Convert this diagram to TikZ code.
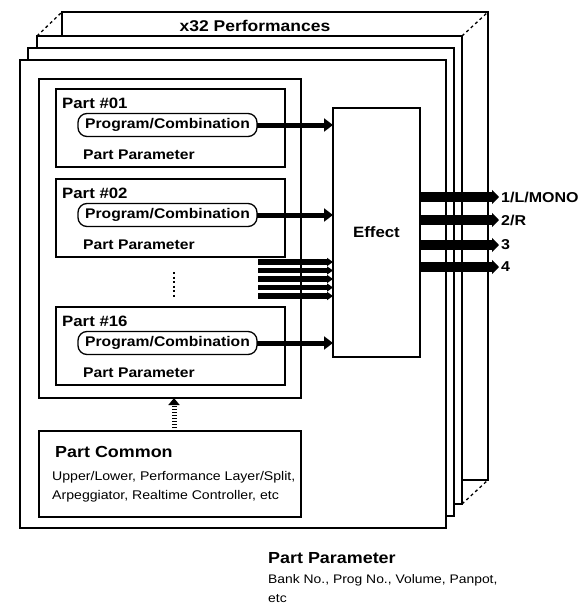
\documentclass[tikz,border=0pt]{standalone}
\usepackage{fontspec}
\setmainfont{Liberation Sans}[FakeStretch=1.12]
\usetikzlibrary{arrows.meta, positioning, calc}

\begin{document}
\begin{tikzpicture}[x=1pt, y=-1pt,
  frame/.style={draw, line width=1.5pt, fill=white},
  box/.style={draw, line width=1.5pt, fill=white, inner sep=0pt, outer sep=0pt},
  pill/.style={draw, line width=1.3pt, rounded corners=9pt, fill=white,
    minimum width=179pt, minimum height=23pt, inner sep=0pt, outer sep=0pt,
    font=\fontsize{14}{16}\selectfont\bfseries},
  bigtxt/.style={font=\fontsize{15}{18}\selectfont\bfseries, inner sep=0pt, anchor=base west},
  midtxt/.style={font=\fontsize{14}{16}\selectfont\bfseries, inner sep=0pt, anchor=base west},
  smalltxt/.style={font=\fontsize{12.6}{15}\selectfont, inner sep=0pt, anchor=base west},
  outtxt/.style={font=\fontsize{14.3}{16}\selectfont\bfseries, inner sep=2pt, anchor=west},
  inarrow/.style={line width=5pt, -{Triangle[length=9pt,width=13pt]}},
  stackarrow/.style={line width=5.5pt, -{Triangle[length=6pt,width=8pt]}},
  outarrow/.style={line width=9.5pt, -{Triangle[length=7pt,width=14pt]}},
  ]

\useasboundingbox (0,0) rectangle (586,605);

% Performance layers (back to front)
\filldraw[frame] (62,12) rectangle (488,480);
\draw[dashed, line width=1.3pt] (37,36) -- (62,12);
\draw[dashed, line width=1.3pt] (462,36) -- (488,12);
\draw[dashed, line width=1.3pt] (462,504) -- (488,480);
\filldraw[frame] (37,36) rectangle (462,504);
\filldraw[frame] (28,48) rectangle (454,516);
\filldraw[frame] (20,60) rectangle (446,528);
\node[font=\fontsize{15.6}{18}\selectfont\bfseries] (title) at (255,26) {x32 Performances};

% Effect block
\node[box, minimum width=87pt, minimum height=249pt,
  font=\fontsize{15}{18}\selectfont\bfseries] (effect) at (376.5,232.5) {Effect};

% Parts
\node[box, minimum width=262pt, minimum height=319pt] (perf) at (170,238.5) {};
\foreach \n/\t in {01/89, 02/179, 16/307} {
  \node[box, minimum width=229pt, minimum height=78pt] (part\n) at (170.5,\t+39) {};
  \node[bigtxt] (lbl\n) at (62,\t+19) {Part \#\n};
  \node[pill] (prog\n) at (167.5,\t+36) {Program/Combination};
  \node[midtxt] (par\n) at (83,\t+70) {Part Parameter};
  \draw[inarrow] (prog\n.east) -- (prog\n.east -| effect.west);
}

% Parts #03 - #15
\draw[line width=2pt, dash pattern=on 2pt off 2.5pt] (174,272) -- (174,298);
\foreach \y [count=\i] in {262,270.5,279,287.5,296} {
  \coordinate (stack\i) at (258,\y);
  \draw[stackarrow] (stack\i) -- (stack\i -| effect.west);
}

% Outputs
\foreach \y/\lbl [count=\i] in {197/{1/L/MONO}, 220/{2/R}, 245/3, 267/4} {
  \node[outtxt] (out\i) at (499,\y) {\lbl};
  \draw[outarrow] (effect.east |- out\i.west) -- (out\i.west);
}

% Part Common
\node[box, minimum width=262pt, minimum height=86pt] (common) at (170,474) {};
\node[font=\fontsize{16}{18}\selectfont\bfseries, inner sep=0pt, anchor=base west] (commonlbl) at (55,457) {Part Common};
\node[smalltxt] (common1) at (52,480) {Upper/Lower, Performance Layer/Split,};
\node[smalltxt] (common2) at (52,499) {Arpeggiator, Realtime Controller, etc};
\draw[line width=5pt, dash pattern=on 1.5pt off 1.5pt, -{Triangle[length=7pt,width=11pt]}]
  ([xshift=4pt]common.north) -- ([xshift=4pt]perf.south);

% Legend
\node[font=\fontsize{16}{18}\selectfont\bfseries, inner sep=0pt, anchor=base west] (leglbl) at (268,563) {Part Parameter};
\node[font=\fontsize{12.4}{14}\selectfont, inner sep=0pt, anchor=base west] (leg1) at (268,583) {Bank No., Prog No., Volume, Panpot,};
\node[font=\fontsize{12.4}{14}\selectfont, inner sep=0pt, anchor=base west] (leg2) at (268,602) {etc};

\end{tikzpicture}
\end{document}
